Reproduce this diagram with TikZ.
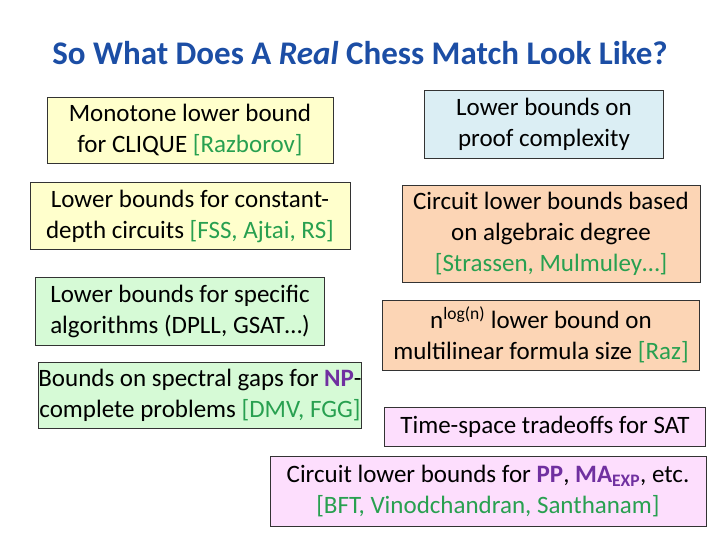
\documentclass[tikz,border=0pt]{standalone}
\usepackage{fontspec}
\setmainfont{Carlito}
\definecolor{ttl}{RGB}{28,78,165}
\definecolor{grn}{RGB}{40,160,80}
\definecolor{pur}{RGB}{112,48,160}
\definecolor{fy}{RGB}{255,255,204}
\definecolor{fb}{RGB}{219,238,244}
\definecolor{fo}{RGB}{252,213,181}
\definecolor{fg}{RGB}{214,250,214}
\definecolor{fp}{RGB}{253,222,253}
\newcommand{\cit}[1]{\textcolor{grn}{#1}}
\newcommand{\cls}[1]{\textcolor{pur}{\textbf{#1}}}
\begin{document}
\begin{tikzpicture}[x=1pt,y=-1pt,
  bx/.style={draw=black!80,line width=0.8pt,align=center,inner sep=0pt,font=\fontsize{25}{31}\selectfont}]
\useasboundingbox (0,0) rectangle (720,540);
\node[font=\fontsize{33}{38}\selectfont\bfseries,text=ttl] (title) at (360,53) {So What Does A \textit{Real} Chess Match Look Like?};
\node[bx,fill=fy,minimum width=286,minimum height=66] (a) at (190,130) {Monotone lower bound\\for CLIQUE \cit{[Razborov]}};
\node[bx,fill=fb,minimum width=239,minimum height=68] (b) at (544,124) {Lower bounds on\\proof complexity};
\node[bx,fill=fy,minimum width=320,minimum height=67] (c) at (190,216) {Lower bounds for constant-\\depth circuits \cit{[FSS, Ajtai, RS]}};
\node[bx,fill=fo,minimum width=298,minimum height=97] (d) at (551,234) {Circuit lower bounds based\\on algebraic degree\\\cit{[Strassen, Mulmuley…]}};
\node[bx,fill=fg,minimum width=289,minimum height=68] (e) at (180,311) {Lower bounds for specific\\algorithms (DPLL, GSAT…)};
\node[bx,fill=fo,minimum width=317,minimum height=70] (f) at (541,335) {n\textsuperscript{log(n)} lower bound on\\multilinear formula size \cit{[Raz]}};
\node[bx,fill=fg,minimum width=320,minimum height=66] (g) at (200,395) {Bounds on spectral gaps for \cls{NP}-\\complete problems \cit{[DMV, FGG]}};
\node[bx,fill=fp,minimum width=321,minimum height=39] (h) at (545,427) {Time-space tradeoffs for SAT};
\node[bx,fill=fp,minimum width=436,minimum height=70] (i) at (488,491) {Circuit lower bounds for \cls{PP}, \cls{MA\textsubscript{EXP}}, etc.\\\cit{[BFT, Vinodchandran, Santhanam]}};
\end{tikzpicture}
\end{document}
